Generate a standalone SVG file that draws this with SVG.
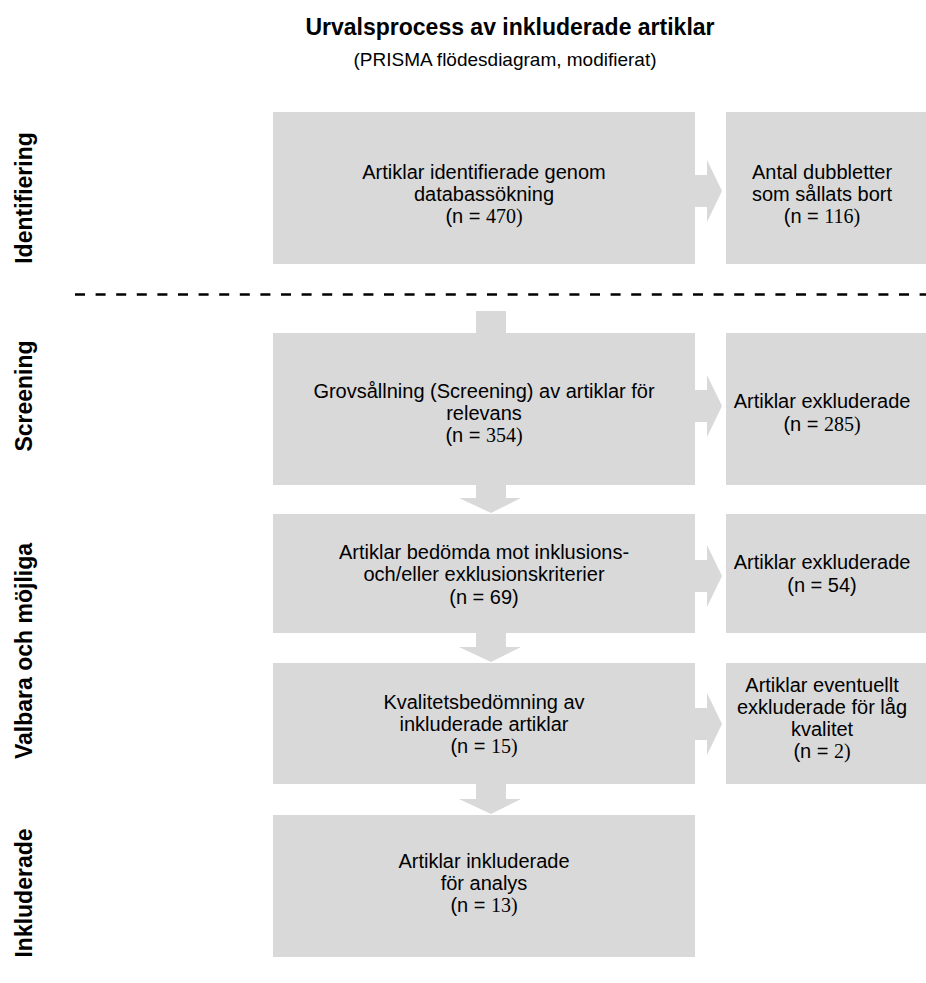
<svg xmlns="http://www.w3.org/2000/svg" width="926" height="983" viewBox="0 0 926 983">
<style>
.box{fill:#d9d9d9}
.arr{fill:#d9d9d9}
text{font-family:"Liberation Sans",Arial,sans-serif;fill:#000}
.t{font-size:20px;text-anchor:middle}
.num{font-family:"Liberation Serif","Times New Roman",serif}
.lbl{font-size:23px;font-weight:bold;text-anchor:middle}
.title{font-size:23px;font-weight:bold;text-anchor:middle}
.sub{font-size:19px;text-anchor:middle}
</style>
<rect width="926" height="983" fill="#fff"/>
<g id="title">
<text class="title" x="510" y="35">Urvalsprocess av inkluderade artiklar</text>
<text class="sub" x="505" y="66">(PRISMA flödesdiagram, modifierat)</text>
</g>
<g id="phase-labels">
<text class="lbl" transform="translate(32,198) rotate(-90)">Identifiering</text>
<text class="lbl" transform="translate(32,396) rotate(-90)">Screening</text>
<text class="lbl" transform="translate(32,651) rotate(-90)">Valbara och möjliga</text>
<text class="lbl" transform="translate(32,893) rotate(-90)">Inkluderade</text>
</g>
<g id="divider">
<line x1="75" y1="294.5" x2="926" y2="294.5" stroke="#000" stroke-width="2.5" stroke-dasharray="10 10.6"/>
</g>
<g id="connectors">
<polygon class="arr" points="695,175 707,175 707,160 722,191 707,222 707,207 695,207"/>
<polygon class="arr" points="695,390 707,390 707,375 722,406 707,437 707,422 695,422"/>
<polygon class="arr" points="695,560 707,560 707,545 722,576 707,607 707,592 695,592"/>
<polygon class="arr" points="695,708 707,708 707,693 722,724 707,755 707,740 695,740"/>
<rect class="arr" x="476" y="311" width="30" height="22"/>
<polygon class="arr" points="476,485 506,485 506,498 521,498 491,513 459,498 476,498"/>
<polygon class="arr" points="476,633 506,633 506,647 521,647 491,662 459,647 476,647"/>
<polygon class="arr" points="476,784 506,784 506,799 521,799 491,814 459,799 476,799"/>
</g>
<g id="n1">
<rect class="box" x="273" y="112" width="422" height="152"/>
<text class="t" x="484" y="179">Artiklar identifierade genom</text>
<text class="t" x="484" y="201">databassökning</text>
<text class="t" x="484" y="223">(n = <tspan class="num">470)</tspan></text>
</g>
<g id="n1x">
<rect class="box" x="726" y="112" width="200" height="152"/>
<text class="t" x="822" y="179">Antal dubbletter</text>
<text class="t" x="822" y="201">som sållats bort</text>
<text class="t" x="822" y="223">(n = <tspan class="num">116)</tspan></text>
</g>
<g id="n2">
<rect class="box" x="273" y="333" width="422" height="152"/>
<text class="t" x="484" y="398">Grovsållning (Screening) av artiklar för</text>
<text class="t" x="484" y="420">relevans</text>
<text class="t" x="484" y="442">(n = <tspan class="num">354)</tspan></text>
</g>
<g id="n2x">
<rect class="box" x="726" y="333" width="200" height="152"/>
<text class="t" x="822" y="408">Artiklar exkluderade</text>
<text class="t" x="822" y="431">(n = <tspan class="num">285)</tspan></text>
</g>
<g id="n3">
<rect class="box" x="273" y="514" width="422" height="119"/>
<text class="t" x="484" y="559">Artiklar bedömda mot inklusions-</text>
<text class="t" x="484" y="581">och/eller exklusionskriterier</text>
<text class="t" x="484" y="604">(n = 69)</text>
</g>
<g id="n3x">
<rect class="box" x="726" y="514" width="200" height="119"/>
<text class="t" x="822" y="569">Artiklar exkluderade</text>
<text class="t" x="822" y="592">(n = 54)</text>
</g>
<g id="n4">
<rect class="box" x="273" y="663" width="422" height="121"/>
<text class="t" x="484" y="709">Kvalitetsbedömning av</text>
<text class="t" x="484" y="731">inkluderade artiklar</text>
<text class="t" x="484" y="753">(n = <tspan class="num">15)</tspan></text>
</g>
<g id="n4x">
<rect class="box" x="726" y="663" width="200" height="121"/>
<text class="t" x="822" y="692">Artiklar eventuellt</text>
<text class="t" x="822" y="714">exkluderade för låg</text>
<text class="t" x="822" y="736">kvalitet</text>
<text class="t" x="822" y="758">(n = <tspan class="num">2)</tspan></text>
</g>
<g id="n5">
<rect class="box" x="273" y="815" width="422" height="142"/>
<text class="t" x="484" y="868">Artiklar inkluderade</text>
<text class="t" x="484" y="890">för analys</text>
<text class="t" x="484" y="912">(n = <tspan class="num">13)</tspan></text>
</g>
</svg>
